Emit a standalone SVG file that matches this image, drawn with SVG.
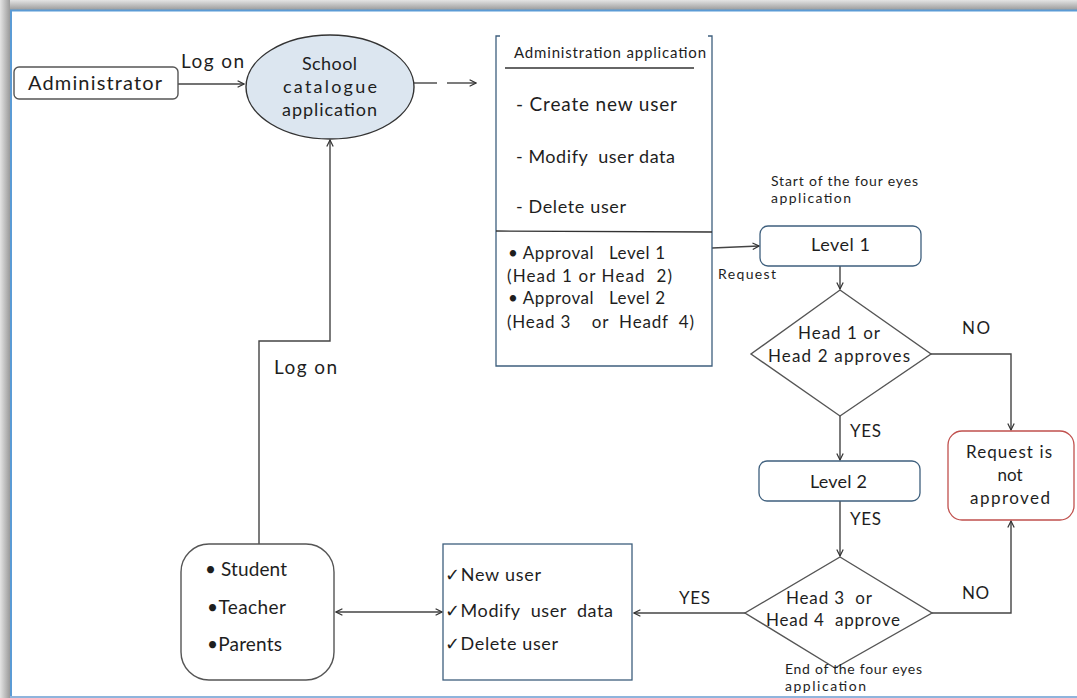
<svg xmlns="http://www.w3.org/2000/svg" width="1077" height="698" viewBox="0 0 1077 698">
<defs>
<linearGradient id="gt" x1="0" y1="0" x2="0" y2="1"><stop offset="0" stop-color="#e4e4e4"/><stop offset="1" stop-color="#9a9a9a"/></linearGradient>
<linearGradient id="gl" x1="0" y1="0" x2="1" y2="0"><stop offset="0" stop-color="#e4e4e4"/><stop offset="1" stop-color="#9a9a9a"/></linearGradient>
<marker id="ah" viewBox="0 0 10 10" refX="9" refY="5" markerWidth="8" markerHeight="8" orient="auto-start-reverse" markerUnits="userSpaceOnUse"><path d="M1,1 L9,5 L1,9" fill="none" stroke="#333" stroke-width="1.5"/></marker>
<style>
text{font-family:Lato,"Open Sans","Liberation Sans",sans-serif;fill:#1e1e1e;white-space:pre}
.c{text-anchor:middle}
.n{stroke:#3e5f7d;stroke-width:1.3;fill:#fff}
.g{stroke:#555;stroke-width:1.4;fill:#fff}
.l{stroke:#444;stroke-width:1.4;fill:none}
.a{marker-end:url(#ah)}
</style>
</defs>
<rect width="1077" height="698" fill="#fff"/>
<rect x="0" y="0" width="1077" height="10" fill="url(#gt)"/>
<rect x="0" y="0" width="10" height="698" fill="url(#gl)"/>
<line x1="10" y1="10.5" x2="1077" y2="10.5" stroke="#5b9bd5" stroke-width="2"/>
<line x1="11" y1="10" x2="11" y2="698" stroke="#5b9bd5" stroke-width="2"/>
<line x1="10" y1="697" x2="1077" y2="697" stroke="#8fb4dc" stroke-width="2"/>

<g id="connectors">
<path class="l a" d="M178,84 H244"/>
<text x="181" y="68" font-size="19" textLength="63" lengthAdjust="spacing">Log on</text>
<path class="l" d="M414,83 H437"/>
<path class="l a" d="M447,83 H476"/>
<path class="l a" d="M712,248 L759,246"/>
<text x="718" y="279" font-size="14" textLength="58" lengthAdjust="spacing">Request</text>
<path class="l a" d="M840,266 V289"/>
<path class="l a" d="M931,354 H1011 V430"/>
<text x="962" y="334" font-size="17" textLength="28" lengthAdjust="spacing">NO</text>
<path class="l a" d="M840,416 V460"/>
<text x="850" y="437" font-size="17" textLength="31" lengthAdjust="spacing">YES</text>
<path class="l a" d="M840,501 V556"/>
<text x="850" y="525" font-size="17" textLength="31" lengthAdjust="spacing">YES</text>
<path class="l a" d="M932,613 H1011 V521"/>
<text x="962" y="599" font-size="17" textLength="27" lengthAdjust="spacing">NO</text>
<path class="l a" d="M745,613 H634"/>
<text x="679" y="604" font-size="17" textLength="31" lengthAdjust="spacing">YES</text>
<path class="l a" d="M336,612 H442" marker-start="url(#ah)"/>
<path class="l a" d="M259,544 V341 H330 V140"/>
<text x="274" y="374" font-size="19" textLength="63" lengthAdjust="spacing">Log on</text>
</g>

<g id="administrator">
<rect x="14" y="67" width="164" height="32" rx="5" class="g" stroke="#333"/>
<text x="28" y="90" font-size="20" textLength="134" lengthAdjust="spacing">Administrator</text>
</g>

<g id="school-catalogue">
<ellipse cx="330" cy="87" rx="84" ry="52" fill="#dce6f0" stroke="#333" stroke-width="1.4"/>
<text x="302" y="70" font-size="18" textLength="55" lengthAdjust="spacing">School</text>
<text x="283" y="93" font-size="18" textLength="94" lengthAdjust="spacing">catalogue</text>
<text x="282" y="116" font-size="18" textLength="95" lengthAdjust="spacing">application</text>
</g>

<g id="administration-application">
<path class="n" d="M500,36 H496 V366 H712 V36 H708" fill="#fff"/>
<text x="514" y="58" font-size="15" textLength="192" lengthAdjust="spacing">Administration application</text>
<line x1="505" y1="68" x2="694" y2="68" stroke="#333" stroke-width="1.3"/>
<text x="516" y="111" font-size="19" textLength="161" lengthAdjust="spacing">- Create new user</text>
<text x="516" y="163" font-size="18" textLength="159" lengthAdjust="spacing">- Modify  user data</text>
<text x="516" y="213" font-size="18" textLength="110" lengthAdjust="spacing">- Delete user</text>
<line x1="496" y1="231" x2="712" y2="232" stroke="#333" stroke-width="1.3"/>
<text x="508" y="259" font-size="17" textLength="157" lengthAdjust="spacing">• Approval   Level 1</text>
<text x="507" y="282" font-size="17" textLength="165" lengthAdjust="spacing">(Head 1 or Head  2)</text>
<text x="508" y="304" font-size="17" textLength="157" lengthAdjust="spacing">• Approval   Level 2</text>
<text x="507" y="328" font-size="17" textLength="187" lengthAdjust="spacing">(Head 3    or  Headf  4)</text>
</g>

<g id="start-note">
<text x="771" y="186" font-size="14" textLength="147" lengthAdjust="spacing">Start of the four eyes</text>
<text x="771" y="203" font-size="14" textLength="80" lengthAdjust="spacing">application</text>
</g>

<g id="level1">
<rect x="760" y="226" width="161" height="40" rx="8" class="n"/>
<text x="811" y="251" font-size="18" textLength="59" lengthAdjust="spacing">Level 1</text>
</g>

<g id="decision1">
<polygon points="840,290 931,354 840,416 751,354" class="g"/>
<text x="798" y="339" font-size="17" textLength="82" lengthAdjust="spacing">Head 1 or</text>
<text x="768" y="362" font-size="17" textLength="142" lengthAdjust="spacing">Head 2 approves</text>
</g>

<g id="not-approved">
<rect x="948" y="431" width="126" height="89" rx="14" fill="#fff" stroke="#c0504d" stroke-width="1.3"/>
<text x="966" y="458" font-size="17" textLength="86" lengthAdjust="spacing">Request is</text>
<text x="1010" y="481" class="c" font-size="17">not</text>
<text x="970" y="504" font-size="17" textLength="80" lengthAdjust="spacing">approved</text>
</g>

<g id="level2">
<rect x="759" y="461" width="161" height="40" rx="8" class="n"/>
<text x="810" y="488" font-size="18" textLength="57" lengthAdjust="spacing">Level 2</text>
</g>

<g id="decision2">
<polygon points="840,557 932,613 835,668 745,613" class="g"/>
<text x="786" y="604" font-size="17" textLength="86" lengthAdjust="spacing">Head 3  or</text>
<text x="766" y="626" font-size="17" textLength="134" lengthAdjust="spacing">Head 4  approve</text>
</g>

<g id="end-note">
<text x="785" y="674" font-size="14" textLength="137" lengthAdjust="spacing">End of the four eyes</text>
<text x="785" y="691" font-size="14" textLength="81" lengthAdjust="spacing">application</text>
</g>

<g id="changes">
<rect x="443" y="544" width="189" height="136" class="n"/>
<text x="445" y="581" font-size="18" textLength="96" lengthAdjust="spacing">✓New user</text>
<text x="445" y="617" font-size="18" textLength="168" lengthAdjust="spacing">✓Modify  user  data</text>
<text x="445" y="650" font-size="18" textLength="113" lengthAdjust="spacing">✓Delete user</text>
</g>

<g id="users">
<rect x="181" y="544" width="153" height="136" rx="28" class="g"/>
<text x="205" y="576" font-size="19" textLength="82" lengthAdjust="spacing">• Student</text>
<text x="207" y="614" font-size="19" textLength="79" lengthAdjust="spacing">•Teacher</text>
<text x="207" y="651" font-size="19" textLength="75" lengthAdjust="spacing">•Parents</text>
</g>
</svg>
